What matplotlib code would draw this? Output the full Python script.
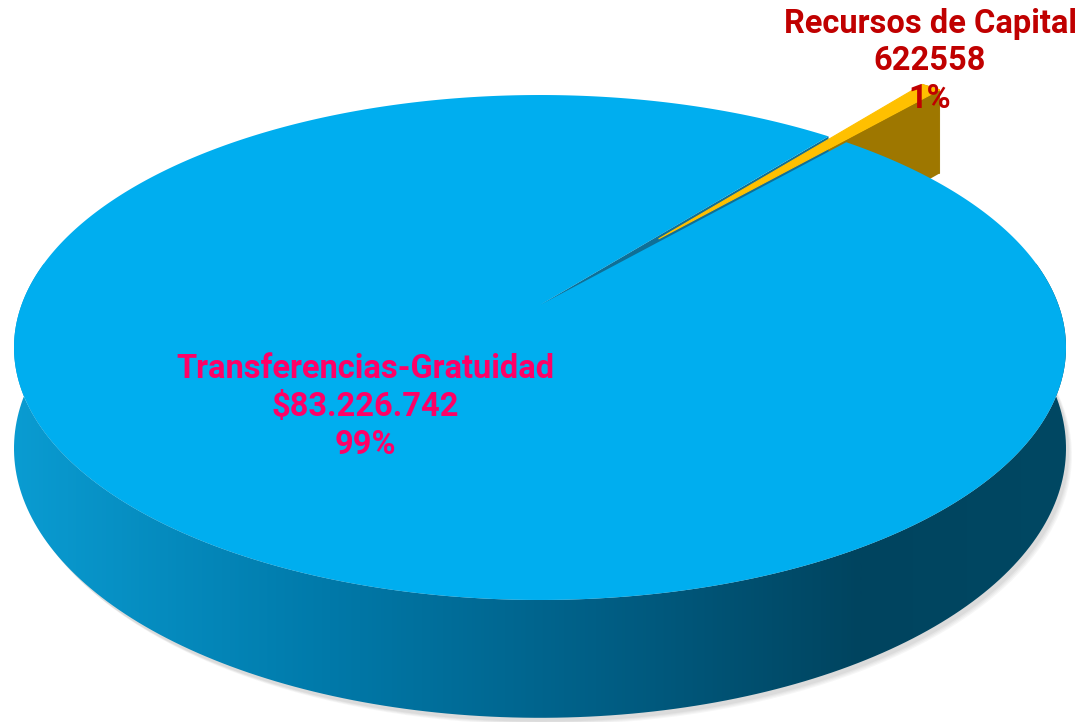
import numpy as np
import matplotlib.pyplot as plt
from matplotlib.patches import Polygon
from matplotlib.colors import LinearSegmentedColormap

# datos
categorias = ['Transferencias-Gratuidad', 'Recursos de Capital']
valores = [83226742, 622558]
textos_valor = ['$83.226.742', '622558']
porcentajes = ['99%', '1%']

color_top = ['#00AEEF', '#FFC000']
color_lado = ['#0F6F96', '#9E7700']
color_texto = ['#FF0066', '#C00000']

# geometria de la torta 3D (perspectiva simple, coordenadas en pixeles)
A, B, G = 518.5, -194.0, 0.1683
CX, CY = 540.0, 305.0
DEP = 98.0
inicio = 51.0       # borde donde empieza la primera porcion (grados)
explode = 0.37


def proj(u, v, z=0.0):
    d = 1 + G * v
    return CX + A * u / d, (B * v + CY + DEP * z) / d


def arco(t0, t1, r=1.0, z=0.0, off=(0, 0), n=200):
    t = np.radians(np.linspace(t0, t1, n))
    x, y = proj(off[0] + r * np.cos(t), off[1] + r * np.sin(t), z)
    return np.column_stack([x, y])


def punto(u, v, z=0.0):
    return np.array([proj(u, v, z)])


fig = plt.figure(figsize=(10.82, 7.22), dpi=100)
ax = fig.add_axes([0, 0, 1, 1])
ax.set_xlim(0, 1082)
ax.set_ylim(722, 0)
ax.axis('off')

total = sum(valores)
ang = [v / total * 360 for v in valores]
# porcion grande: de inicio a inicio+ang0 (antihorario); la pequena llena el hueco
b0, b1 = inicio, inicio + ang[0]
s0, s1 = inicio - ang[1], inicio
mid = np.radians((s0 + s1) / 2)
off = (explode * np.cos(mid), explode * np.sin(mid))

# sombra
for i, a in enumerate([0.05, 0.05, 0.06, 0.07]):
    sh = arco(0, 360, r=1.0, z=1.0)
    sh = sh + np.array([6 - i, 7 - i])
    ax.add_patch(Polygon(sh, closed=True, fc='#606060', ec='none', alpha=a, zorder=1))

# pared exterior de la porcion grande con degradado
pared = np.vstack([arco(170, 370, z=0.0), arco(370, 170, z=1.0)])
pp = Polygon(pared, closed=True, fc='none', ec='none', zorder=2)
ax.add_patch(pp)
cmap = LinearSegmentedColormap.from_list(
    'lado', [(0, '#0A9CD2'), (0.3, '#0079A9'), (0.55, '#005F86'),
             (0.8, '#00445F'), (1.0, '#004863')])
grad = np.linspace(0, 1, 512).reshape(1, -1)
im = ax.imshow(grad, cmap=cmap, extent=[10, 1075, 722, 0], aspect='auto', zorder=2)
im.set_clip_path(pp)

# caras de la porcion pequena (separada)
cara_rad = np.vstack([punto(*off), arco(s0, s0, off=off, n=1),
                      arco(s0, s0, z=1.0, off=off, n=1), punto(off[0], off[1], 1.0)])
ax.add_patch(Polygon(cara_rad, closed=True, fc=color_lado[1], ec='none', zorder=3))
cara_ext = np.vstack([arco(s0, s1, off=off), arco(s1, s0, z=1.0, off=off)])
ax.add_patch(Polygon(cara_ext, closed=True, fc=color_lado[1], ec=color_lado[1], lw=0.5, zorder=3))

# cara de corte visible de la porcion grande
corte = np.vstack([punto(0, 0), arco(b0, b0, n=1), arco(b0, b0, z=1.0, n=1), punto(0, 0, 1.0)])
ax.add_patch(Polygon(corte, closed=True, fc=color_lado[0], ec='none', zorder=4))

# tapa de la porcion pequena
tapa_s = np.vstack([punto(*off), arco(s0, s1, off=off)])
ax.add_patch(Polygon(tapa_s, closed=True, fc=color_top[1], ec=color_top[1], lw=0.8, zorder=5))

# tapa de la porcion grande
tapa_b = np.vstack([punto(0, 0), arco(b0, b1, n=720)])
ax.add_patch(Polygon(tapa_b, closed=True, fc=color_top[0], ec='none', zorder=6))

# etiquetas
fuente = ['Roboto', 'DejaVu Sans']
ax.text(365, 407, f'{categorias[0]}\n{textos_valor[0]}\n{porcentajes[0]}',
        ha='center', va='center', multialignment='center', color=color_texto[0],
        fontsize=23.5, fontweight='bold', family=fuente, linespacing=1.22, zorder=10)
ax.text(930, 61, f'{categorias[1]}\n{textos_valor[1]}\n{porcentajes[1]}',
        ha='center', va='center', multialignment='center', color=color_texto[1],
        fontsize=23.5, fontweight='bold', family=fuente, linespacing=1.22, zorder=10)

fig.savefig('out.png', dpi=100)
